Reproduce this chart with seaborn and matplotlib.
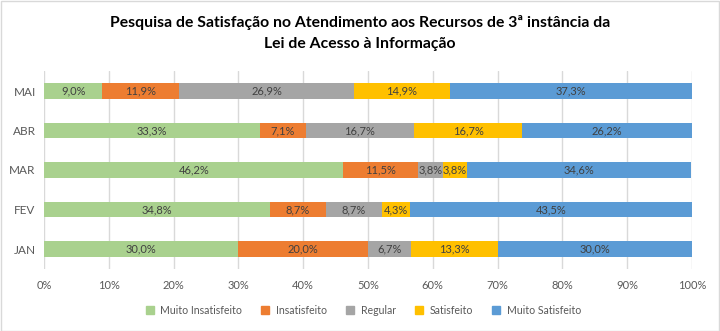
import matplotlib
matplotlib.use("Agg")
import matplotlib.pyplot as plt
import seaborn as sns
import pandas as pd
import numpy as np
from matplotlib.patches import Rectangle
from matplotlib.lines import Line2D

months = ["MAI", "ABR", "MAR", "FEV", "JAN"]
series = ["Muito Insatisfeito", "Insatisfeito", "Regular", "Satisfeito", "Muito Satisfeito"]
muito_insat = [9.0, 33.3, 46.2, 34.8, 30.0]
insat = [11.9, 7.1, 11.5, 8.7, 20.0]
regular = [26.9, 16.7, 3.8, 8.7, 6.7]
satisf = [14.9, 16.7, 3.8, 4.3, 13.3]
muito_satisf = [37.3, 26.2, 34.6, 43.5, 30.0]
colors = ["#A9D18E", "#ED7D31", "#A5A5A5", "#FFC000", "#5B9BD5"]
title = "Pesquisa de Satisfação no Atendimento aos Recursos de 3ª instância da\nLei de Acesso à Informação"

sns.set_theme(style="white")
plt.rcParams['font.family'] = ['Lato', 'DejaVu Sans']

vals = np.array([muito_insat, insat, regular, satisf, muito_satisf])
cum = np.cumsum(vals, axis=0)

fig = plt.figure(figsize=(7.2, 3.31), dpi=100)
ax = fig.add_axes([44/720, 1-268.75/331, 648/720, 197.5/331])

# Draw cumulative bars from largest to smallest so they appear stacked
for i in range(len(series) - 1, -1, -1):
    df = pd.DataFrame({"month": months, "value": cum[i]})
    sns.barplot(data=df, x="value", y="month", order=months, color=colors[i],
                width=0.4, ax=ax, saturation=1, linewidth=0)

for i in range(len(series)):
    left = cum[i] - vals[i]
    for j in range(len(months)):
        ax.text(left[j] + vals[i][j] / 2, j, f"{vals[i][j]:.1f}%".replace(".", ","),
                ha="center", va="center", fontsize=8, color="#404040")

ax.set_xlim(0, 100)
ax.set_ylim(4.5, -0.5)
ax.set_xticks(np.arange(0, 101, 10))
ax.set_xticklabels([f"{t}%" for t in range(0, 101, 10)], fontsize=8, color="#595959")
ax.tick_params(axis="y", labelsize=8.5, labelcolor="#595959", length=0, pad=6)
ax.tick_params(axis="x", length=0, pad=8)
ax.set_xlabel("")
ax.set_ylabel("")
ax.grid(axis="x", color="#D9D9D9", linewidth=1)
ax.set_axisbelow(True)
for s in ax.spines.values():
    s.set_visible(False)

hs = [Line2D([], [], marker="s", linestyle="", markersize=6, color=c) for c in colors]
fig.legend(hs, series, loc="center", bbox_to_anchor=(0.5, 1-310/331), ncol=5, frameon=False,
           fontsize=7.6, handletextpad=0.0, columnspacing=1.2, labelcolor="#595959")

fig.text(0.5, 1-33/331, title, ha="center", va="center", fontsize=11.3, fontweight="bold",
         color="#000000", linespacing=1.6)

fig.patches.append(Rectangle((0.5/720, 0.5/331), 1-1.5/720, 1-1.5/331, transform=fig.transFigure,
                             fill=False, edgecolor="#D9D9D9", linewidth=1))

fig.savefig("out.png", dpi=100)
